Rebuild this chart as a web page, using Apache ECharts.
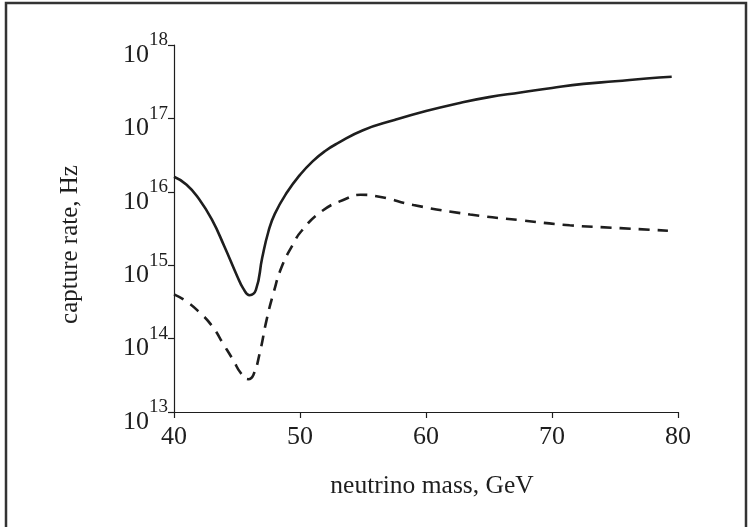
<!DOCTYPE html>
<html>
<head>
<meta charset="utf-8">
<script src="https://cdn.jsdelivr.net/npm/echarts@6/dist/echarts.min.js"></script>
<style>
html,body{margin:0;padding:0;background:#fff;}
#c{width:751px;height:527px;}
</style>
</head>
<body>
<div id="c"></div>
<script>
const xTicks = [40, 50, 60, 70, 80];
const yTickExponents = [13, 14, 15, 16, 17, 18];

const solidMass = [40, 41, 42, 43, 44, 45, 45.5, 46, 46.5, 47, 47.5, 48, 49, 50, 51, 52, 53, 55, 57.5, 60, 62.5, 65, 67.5, 70, 72.5, 75, 77.5, 79.5];
const solidRate = [1.6e16, 1.25e16, 7.9e15, 4.2e15, 1.8e15, 7.2e14, 4.8e14, 3.9e14, 4.6e14, 1.26e15, 2.9e15, 5.0e15, 1.0e16, 1.7e16, 2.6e16, 3.6e16, 4.6e16, 6.9e16, 9.5e16, 1.26e17, 1.6e17, 1.95e17, 2.25e17, 2.6e17, 2.95e17, 3.2e17, 3.5e17, 3.7e17];

const dashedMass = [40, 41, 42, 43, 44, 44.7, 45.3, 45.9, 46.3, 46.8, 47.35, 47.9, 48.55, 49.5, 50.1, 51.7, 53.7, 54.8, 56.4, 59, 63.5, 67.5, 71.4, 75.4, 79.2];
const dashedRate = [4.0e14, 3.2e14, 2.3e14, 1.5e14, 8.0e13, 5.1e13, 3.4e13, 2.8e13, 3.2e13, 6.3e13, 1.8e14, 4.2e14, 9.5e14, 2.0e15, 2.9e15, 5.4e15, 8.1e15, 9.1e15, 8.5e15, 6.6e15, 4.9e15, 4.1e15, 3.5e15, 3.2e15, 2.95e15];

const xTitle = 'neutrino mass, GeV';
const yTitle = 'capture rate, Hz';

const font = 'Liberation Serif';
const ink = '#1e1e1e';

const chart = echarts.init(document.getElementById('c'));
chart.setOption({
  backgroundColor: '#fff',
  animation: false,
  graphic: [{
    type: 'rect',
    shape: {x: 6, y: 3, width: 740, height: 540},
    style: {fill: 'none', stroke: '#333', lineWidth: 2.5}
  }],
  grid: {left: 174, right: 73, top: 45, bottom: 115},
  xAxis: {
    type: 'value', min: 40, max: 80, interval: 10,
    name: xTitle, nameLocation: 'middle', nameGap: 61,
    nameTextStyle: {fontFamily: font, fontSize: 25.5, color: ink, padding: [0, 0, 0, 12]},
    axisLine: {lineStyle: {color: ink, width: 1.2}},
    axisTick: {show: true, length: 6, lineStyle: {color: ink, width: 1.2}},
    axisLabel: {fontFamily: font, fontSize: 26, color: ink, margin: 12,
      formatter: v => xTicks.includes(v) ? String(v) : ''},
    splitLine: {show: false}
  },
  yAxis: {
    type: 'log', logBase: 10, min: 1e13, max: 1e18,
    name: yTitle, nameLocation: 'middle', nameGap: 91, nameRotate: 90,
    nameTextStyle: {fontFamily: font, fontSize: 25, color: ink, padding: [0, 32, 0, 0]},
    axisLine: {show: true, lineStyle: {color: ink, width: 1.2}},
    axisTick: {show: true, length: 6, lineStyle: {color: ink, width: 1.2}},
    axisLabel: {
      margin: 6,
      formatter: v => {
        const e = Math.round(Math.log10(v));
        return yTickExponents.includes(e) ? '{b|10}{e|' + e + '}' : '';
      },
      rich: {
        b: {fontFamily: font, fontSize: 26, color: ink, verticalAlign: 'bottom', lineHeight: 46},
        e: {fontFamily: font, fontSize: 19, color: ink, verticalAlign: 'top', lineHeight: 30, padding: [9, 0, 0, 0]}
      }
    },
    splitLine: {show: false}
  },
  series: [{
    type: 'line', name: 'solid',
    data: solidMass.map((m, i) => [m, solidRate[i]]),
    smooth: 0.5, showSymbol: false,
    lineStyle: {color: ink, width: 2.6, type: 'solid'}
  }, {
    type: 'line', name: 'dashed',
    data: dashedMass.map((m, i) => [m, dashedRate[i]]),
    smooth: 0.5, showSymbol: false,
    lineStyle: {color: ink, width: 2.6, type: [11, 8]}
  }]
});
</script>
</body>
</html>
